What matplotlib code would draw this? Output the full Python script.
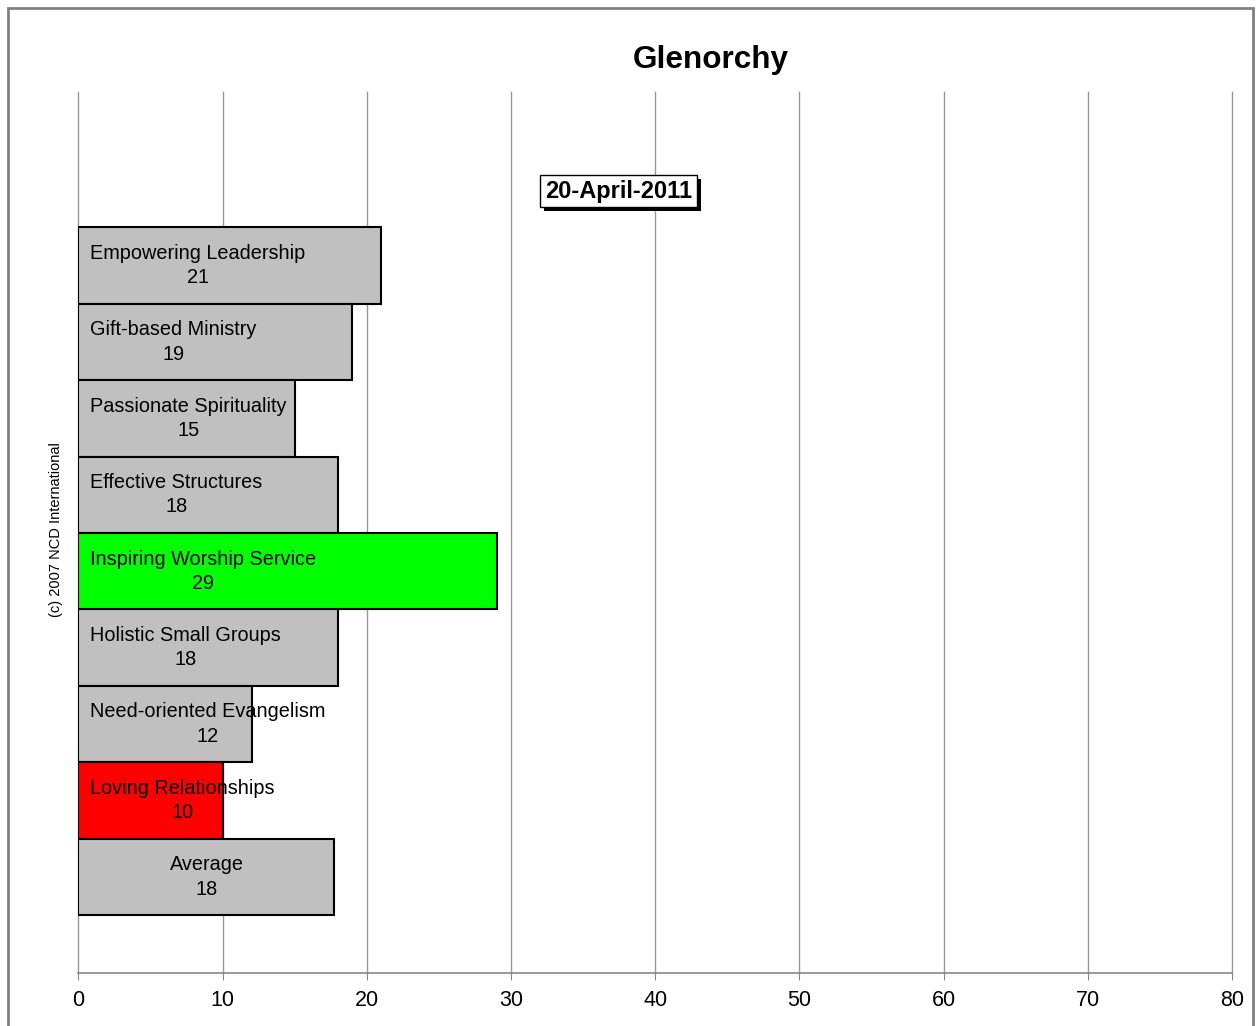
import numpy as np
import matplotlib
matplotlib.use("Agg")
import matplotlib.pyplot as plt
from matplotlib.patches import Rectangle
import matplotlib.patheffects as pe

plt.rcParams['font.family'] = ['Liberation Sans', 'DejaVu Sans']

# quality characteristics, top to bottom
factors = ["Empowering Leadership", "Gift-based Ministry", "Passionate Spirituality",
           "Effective Structures", "Inspiring Worship Service", "Holistic Small Groups",
           "Need-oriented Evangelism", "Loving Relationships"]
scores = [21, 19, 15, 18, 29, 18, 12, 10]
bar_colors = ["#C0C0C0", "#C0C0C0", "#C0C0C0", "#C0C0C0", "#00FF00", "#C0C0C0", "#C0C0C0", "#FF0000"]
avg_color = "#C0C0C0"
x_ticks = [0, 10, 20, 30, 40, 50, 60, 70, 80]

title = "Glenorchy"
survey_date = "20-April-2011"
credit = "(c) 2007 NCD International"

average = np.mean(scores)
names = factors + ["Average"]
values = scores + [average]
colors = bar_colors + [avg_color]
pos = np.arange(len(values))

fig = plt.figure(figsize=(12.58, 10.26), dpi=100)
ax = fig.add_axes([0.0624, 0.0517, 0.9169, 0.8586])

ax.barh(pos, values, height=1.0, color=colors, edgecolor="black", linewidth=1.5, zorder=3)

for i, (name, v) in enumerate(zip(names, values)):
    txt = f"{name}\n{v:.0f}"
    if name == "Average":
        ax.text(v / 2, i, txt, ha="center", va="center", multialignment="center",
                fontsize=14.3, linespacing=1.35, zorder=4)
    else:
        ax.text(0.8, i, txt, ha="left", va="center", multialignment="center",
                fontsize=14.3, linespacing=1.35, zorder=4)

ax.set_xlim(0, 80)
ax.set_ylim(len(values) - 1 + 1.256, -2.27)
ax.set_xticks(x_ticks)
ax.set_yticks([])
ax.tick_params(axis="x", labelsize=15.5, length=5, color="#888888", pad=7)
ax.grid(axis="x", color="#999999", linewidth=1.0, zorder=0)
for gl in ax.get_xgridlines():
    gl.set_clip_on(False)
for s in ["top", "right", "left"]:
    ax.spines[s].set_visible(False)
ax.spines["bottom"].set_color("#888888")
ax.spines["bottom"].set_linewidth(1.2)

# date stamp with a hard drop shadow
d = ax.text(37.45, -0.975, survey_date, ha="center", va="center", fontsize=17,
            fontweight="bold", zorder=5,
            bbox=dict(boxstyle="square,pad=0.2", facecolor="white", edgecolor="black", linewidth=1.0))
d.get_bbox_patch().set_path_effects([
    pe.withSimplePatchShadow(offset=(3, -3), shadow_rgbFace="black", alpha=1.0)])

fig.text(0.565, 0.9415, title, ha="center", va="center", fontsize=22.7, fontweight="bold")
fig.text(0.0445, 0.4834, credit, ha="center", va="center", rotation=90, fontsize=10.5)

# outer frame
fig.patches.append(Rectangle((8 / 1258, -0.05), 1245 / 1258, 1.05 - 8 / 1026,
                             transform=fig.transFigure, fill=False,
                             edgecolor="#808080", linewidth=2.0))

fig.savefig("out.png", dpi=100)
